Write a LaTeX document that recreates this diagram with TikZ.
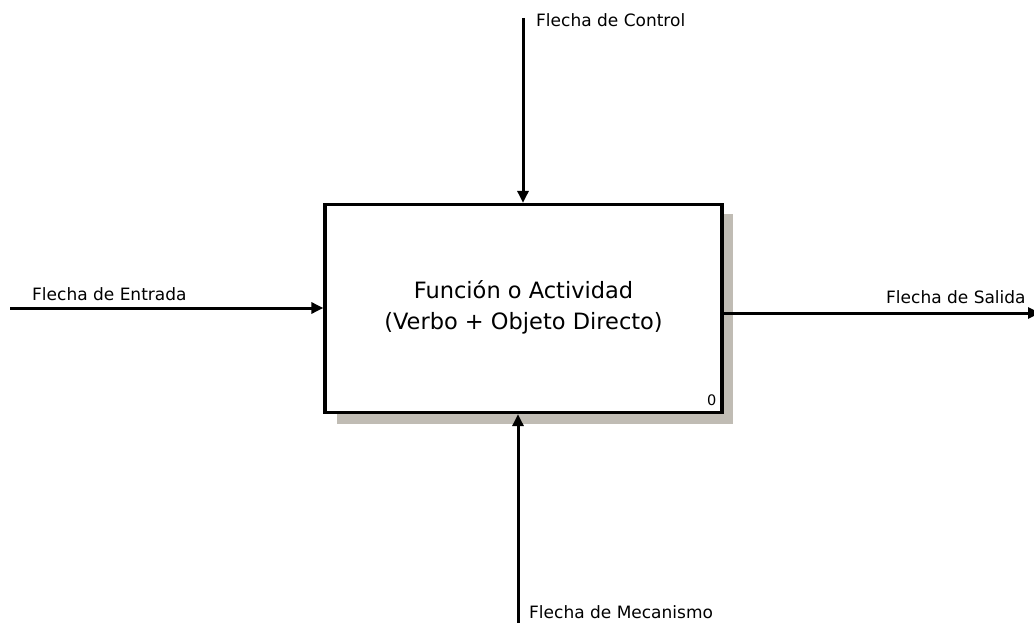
\documentclass[tikz,border=0pt]{standalone}
\usepackage{fontspec}
\setmainfont{DejaVu Sans}
\usetikzlibrary{arrows.meta}
\definecolor{shadowgray}{RGB}{192,188,180}
\tikzset{
  flow/.style={line width=3pt,-{Triangle[length=12pt,width=11pt]}},
  lbl/.style={inner sep=0pt,font=\fontsize{17}{19}\selectfont,anchor=west},
  actbox/.style={draw,line width=3.3pt,fill=white,minimum width=397pt,minimum height=208pt,inner sep=0pt}
}
\begin{document}
\begin{tikzpicture}[x=1pt,y=-1pt]
\useasboundingbox (0,0) rectangle (1034,623);
\fill[shadowgray] (337,214) rectangle (733,424);
\node[actbox] (A) at (523.5,308.5) {};
\node[align=center,font=\fontsize{22.5}{31}\selectfont] (T) at (523.5,307) {Función o Actividad\\(Verbo + Objeto Directo)};
\node[font=\fontsize{14.5}{15}\selectfont,anchor=south east,inner sep=0pt] (N) at (716.5,406) {0};
\coordinate (cin) at (523,18);
\coordinate (ein) at (10,308);
\coordinate (sout) at (1040,313);
\coordinate (min) at (518,623);
\draw[flow] (cin) -- (cin |- A.north);
\draw[flow] (ein) -- (ein -| A.west);
\draw[flow] (A.east |- sout) -- (sout);
\draw[flow] (min) -- (min |- A.south);
\node[lbl] (lc) at (536,20) {Flecha de Control};
\node[lbl] (le) at (32,294) {Flecha de Entrada};
\node[lbl] (ls) at (886,297) {Flecha de Salida};
\node[lbl] (lm) at (529,612) {Flecha de Mecanismo};
\end{tikzpicture}
\end{document}
